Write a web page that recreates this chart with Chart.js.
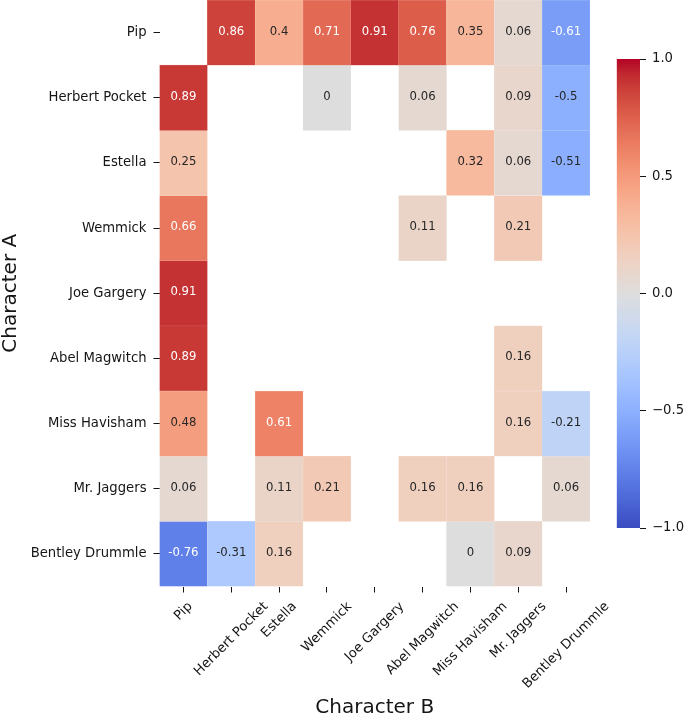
<!DOCTYPE html>
<html>
<head>
<meta charset="utf-8">
<title>Character A vs Character B</title>
<script src="https://cdn.jsdelivr.net/npm/chart.js@4.4.1/dist/chart.umd.min.js"></script>
<style>
  html, body { margin: 0; padding: 0; background: #fff; }
  #wrap { position: relative; width: 685px; height: 717px; }
  #main { position: absolute; left: 0; top: 0; width: 685px; height: 717px; }
  #cbar { position: absolute; left: 600px; top: 45px; width: 85px; height: 500px; }
</style>
</head>
<body>
<div id="wrap">
  <div id="main"><canvas id="heat"></canvas></div>
  <div id="cbar"><canvas id="scale"></canvas></div>
</div>
<script>
//characters on both axes
const charactersA = ['Pip', 'Herbert Pocket', 'Estella', 'Wemmick', 'Joe Gargery',
                     'Abel Magwitch', 'Miss Havisham', 'Mr. Jaggers', 'Bentley Drummle']
const charactersB = ['Pip', 'Herbert Pocket', 'Estella', 'Wemmick', 'Joe Gargery',
                     'Abel Magwitch', 'Miss Havisham', 'Mr. Jaggers', 'Bentley Drummle']

//one row per character A, null = no pair
const pip            = [null, 0.86, 0.4, 0.71, 0.91, 0.76, 0.35, 0.06, -0.61]
const herbertPocket  = [0.89, null, null, 0, null, 0.06, null, 0.09, -0.5]
const estella        = [0.25, null, null, null, null, null, 0.32, 0.06, -0.51]
const wemmick        = [0.66, null, null, null, null, 0.11, null, 0.21, null]
const joeGargery     = [0.91, null, null, null, null, null, null, null, null]
const abelMagwitch   = [0.89, null, null, null, null, null, null, 0.16, null]
const missHavisham   = [0.48, null, 0.61, null, null, null, null, 0.16, -0.21]
const mrJaggers      = [0.06, null, 0.11, 0.21, null, 0.16, 0.16, null, 0.06]
const bentleyDrummle = [-0.76, -0.31, 0.16, null, null, null, 0, 0.09, null]
const rows = [pip, herbertPocket, estella, wemmick, joeGargery,
              abelMagwitch, missHavisham, mrJaggers, bentleyDrummle]

//colour bar
const colorbarTicks = [-1, -0.5, 0, 0.5, 1]

//coolwarm colormap, evenly spaced stops
const coolwarmStops = [
    [59,76,192],[68,90,204],[77,104,215],[87,117,225],[98,130,234],[108,142,241],
    [119,154,247],[130,165,251],[141,176,254],[152,185,255],[163,194,255],[174,201,253],
    [184,208,249],[194,213,244],[204,217,238],[213,219,230],[221,221,221],[229,216,209],
    [236,211,197],[241,204,185],[245,196,173],[247,187,160],[247,177,148],[247,166,135],
    [244,154,123],[241,141,111],[236,127,99],[229,112,89],[222,96,77],[213,80,66],
    [203,62,56],[192,40,47],[180,4,38]
]

const ink = '#151515'
const family = "'DejaVu Sans', sans-serif"
Chart.defaults.font.family = family

//value in [-1, 1] -> rgb triple
const coolwarmRgb = function(v) {
    const t = Math.min(Math.max((v + 1) / 2, 0), 1) * (coolwarmStops.length - 1)
    const i = Math.min(Math.floor(t), coolwarmStops.length - 2)
    const f = t - i
    return coolwarmStops[i].map((c, k) => Math.round(c + (coolwarmStops[i + 1][k] - c) * f))
}
const coolwarm = v => `rgb(${coolwarmRgb(v).join(',')})`
const edge = v => `rgb(${coolwarmRgb(v).map(c => Math.round(c + (255 - c) * 0.3)).join(',')})`

//white text on dark cells, like seaborn does
const textColor = function(v) {
    const lin = coolwarmRgb(v).map(c => {
        c = c / 255
        return c <= 0.03928 ? c / 12.92 : Math.pow((c + 0.055) / 1.055, 2.4)
    })
    const lum = 0.2126 * lin[0] + 0.7152 * lin[1] + 0.0722 * lin[2]
    return lum > 0.408 ? '#262626' : '#ffffff'
}

//numbers in the cells
const cellText = {
    id: 'cellText',
    afterDatasetsDraw(chart) {
        const ctx = chart.ctx
        ctx.save()
        ctx.font = `11.7px ${family}`
        ctx.textAlign = 'center'
        ctx.textBaseline = 'middle'
        chart.data.datasets.forEach((ds, d) => {
            chart.getDatasetMeta(d).data.forEach((bar, i) => {
                const v = rows[d][i]
                if (v === null) return
                const p = bar.getCenterPoint()
                ctx.fillStyle = textColor(v)
                ctx.fillText(String(v), p.x, p.y - 1)
            })
        })
        ctx.restore()
    }
}

//x labels turned 45 degrees, box centred under the tick
const slantedLabels = {
    id: 'slantedLabels',
    afterDraw(chart) {
        const xs = chart.scales.x
        const ctx = chart.ctx
        const size = 13.2
        const top = chart.chartArea.bottom + 12.5
        ctx.save()
        ctx.font = `${size}px ${family}`
        ctx.fillStyle = ink
        ctx.textAlign = 'center'
        ctx.textBaseline = 'middle'
        charactersB.forEach((name, i) => {
            const w = ctx.measureText(name).width
            const half = (w + size * 1.164) * Math.SQRT1_2 / 2
            ctx.save()
            ctx.translate(xs.getPixelForTick(i), top + half)
            ctx.rotate(-Math.PI / 4)
            ctx.fillText(name, 0, 0)
            ctx.restore()
        })
        ctx.restore()
    }
}

//one floating bar per cell, one dataset per row
const heatData = {
    labels: charactersB,
    datasets: rows.map((vals, r) => ({
        label: charactersA[r],
        data: vals.map(v => v === null ? null : [r - 0.5, r + 0.5]),
        backgroundColor: vals.map(v => v === null ? 'rgba(0,0,0,0)' : coolwarm(v)),
        borderColor: vals.map(v => v === null ? 'rgba(0,0,0,0)' : edge(v)),
        borderWidth: 0.5,
        borderSkipped: false,
        grouped: false,
        barPercentage: 1,
        categoryPercentage: 1
    }))
}

const tickGrid = {
    offset: false,
    drawOnChartArea: false,
    drawTicks: true,
    tickLength: 6,
    tickColor: ink,
    tickWidth: 1
}

new Chart(document.getElementById('heat'), {
    type: 'bar',
    data: heatData,
    plugins: [cellText, slantedLabels],
    options: {
        responsive: true,
        maintainAspectRatio: false,
        animation: false,
        layout: { padding: { top: 0, right: 95, bottom: 0, left: 0 } },
        plugins: {
            legend: { display: false },
            tooltip: { enabled: false }
        },
        scales: {
            x: {
                grid: tickGrid,
                border: { display: false },
                ticks: { display: false },
                title: {
                    display: true,
                    text: 'Character B',
                    color: ink,
                    font: { size: 20 },
                    padding: { top: 0, bottom: -3 }
                },
                afterFit: s => { s.height = 130.5 }
            },
            y: {
                type: 'linear',
                reverse: true,
                bounds: 'data',
                min: -0.5,
                max: 8.5,
                afterBuildTicks: s => {
                    s.ticks = charactersA.map((_, i) => ({ value: i }))
                    s.min = -0.5
                    s.max = 8.5
                },
                grid: tickGrid,
                border: { display: false },
                ticks: {
                    autoSkip: false,
                    color: ink,
                    font: { size: 13.2 },
                    padding: 7,
                    callback: v => charactersA[v]
                },
                title: {
                    display: true,
                    text: 'Character A',
                    color: ink,
                    font: { size: 20 },
                    padding: { top: -1, bottom: 0 }
                },
                afterFit: s => {
                    s.width = 159.5
                    s.paddingTop = 0
                    s.paddingBottom = 0
                }
            }
        }
    }
})

//colour bar: one bar from -1 to 1 painted with the colormap
new Chart(document.getElementById('scale'), {
    type: 'bar',
    data: {
        labels: [''],
        datasets: [{
            data: [[colorbarTicks[0], colorbarTicks[colorbarTicks.length - 1]]],
            backgroundColor: c => {
                const area = c.chart.chartArea
                if (!area) return null
                const g = c.chart.ctx.createLinearGradient(0, area.bottom, 0, area.top)
                coolwarmStops.forEach((rgb, i) => g.addColorStop(i / (coolwarmStops.length - 1), `rgb(${rgb.join(',')})`))
                return g
            },
            borderWidth: 0,
            barPercentage: 1,
            categoryPercentage: 1
        }]
    },
    options: {
        responsive: true,
        maintainAspectRatio: false,
        animation: false,
        layout: { padding: { top: 14, bottom: 17, left: 16.7, right: 0 } },
        plugins: {
            legend: { display: false },
            tooltip: { enabled: false }
        },
        scales: {
            x: { display: false },
            y: {
                position: 'right',
                bounds: 'data',
                min: -1,
                max: 1,
                afterBuildTicks: s => { s.ticks = colorbarTicks.map(v => ({ value: v })) },
                grid: tickGrid,
                border: { display: false },
                ticks: {
                    color: ink,
                    font: { size: 13.2 },
                    padding: 6,
                    callback: v => (v < 0 ? '\u2212' : '') + Math.abs(v).toFixed(1)
                },
                afterFit: s => { s.width = 45 }
            }
        }
    }
})
</script>
</body>
</html>
